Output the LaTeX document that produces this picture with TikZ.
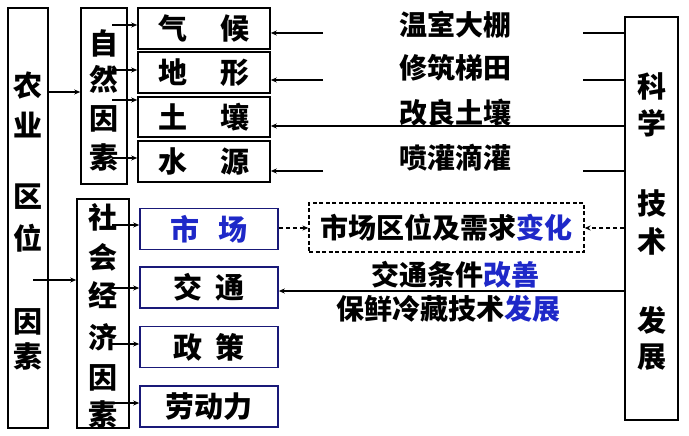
\documentclass[tikz,border=0pt]{standalone}
\usepackage{fontspec}
\newfontfamily\cjk{Noto Sans CJK SC}
\usetikzlibrary{arrows.meta}
\definecolor{tblue}{RGB}{30,40,200}
\definecolor{navy}{RGB}{25,25,120}
\tikzset{
  box/.style={draw=black,line width=1.6pt,inner sep=0pt},
  sbox/.style={draw=navy,line width=1.6pt,inner sep=0pt,minimum width=138pt,minimum height=41pt},
  nbox/.style={draw=black,line width=1.6pt,inner sep=0pt,minimum width=132pt,minimum height=41pt},
  vch/.style={inner sep=0pt,font=\cjk\bfseries\fontsize{29}{29}\selectfont},
  lbl/.style={inner sep=0pt,font=\cjk\bfseries\fontsize{28}{28}\selectfont},
  btxt/.style={font=\cjk\bfseries\fontsize{29}{29}\selectfont},
  dtxt/.style={font=\cjk\bfseries\fontsize{28}{28}\selectfont},
  conn/.style={line width=1.3pt},
  arr/.style={line width=1.3pt,-{Stealth[length=6pt,width=5pt]}},
  darr/.style={line width=1.3pt,dashed,dash pattern=on 4pt off 3pt,-{Stealth[length=6pt,width=5pt]}},
}
\begin{document}
\begin{tikzpicture}[x=1pt,y=-1pt]
\useasboundingbox (0,0) rectangle (689,436);
% left column
\node[box,minimum width=40pt,minimum height=420pt] (agri) at (28,218) {};
\foreach \c/\y [count=\i] in {农/86,业/125,区/197,位/238,因/322,素/356}
  \node[vch] (ag\i) at (28,\y) {\c};
% natural factors
\node[box,minimum width=46pt,minimum height=176pt] (nat) at (104,96) {};
\foreach \c/\y [count=\i] in {自/43,然/79,因/119,素/157}
  \node[vch] (na\i) at (104,\y) {\c};
\node[nbox,btxt] (qh) at (204,28.5) {气\hspace{33pt}候};
\node[nbox,btxt] (dx) at (204,72.5) {地\hspace{33pt}形};
\node[nbox,btxt,minimum height=40pt] (tr) at (204,117) {土\hspace{33pt}壤};
\node[nbox,btxt] (sy) at (204,161.5) {水\hspace{33pt}源};
% social factors
\node[box,minimum width=52pt,minimum height=229pt] (soc) at (103,313.5) {};
\foreach \c/\y [count=\i] in {社/217,会/257,经/295,济/337,因/378,素/414}
  \node[vch] (so\i) at (103,\y) {\c};
\node[sbox,btxt,text=tblue] (sc) at (209,229) {市\hspace{20pt}场};
\node[sbox,btxt] (jt) at (209,287.5) {交\hspace{14pt}通};
\node[sbox,btxt] (zc) at (209,347) {政\hspace{14pt}策};
\node[sbox,btxt] (ldl) at (209,406.5) {劳动力};
% science box
\node[box,minimum width=53pt,minimum height=403pt] (sci) at (651.5,218.5) {};
\foreach \c/\y [count=\i] in {科/86,学/123,技/203,术/242,发/320,展/357}
  \node[vch] (sk\i) at (652,\y) {\c};
% labels
\node[lbl] (l1) at (455,25) {温室大棚};
\node[lbl] (l2) at (455,68) {修筑梯田};
\node[lbl] (l3) at (455,113) {改良土壤};
\node[lbl] (l4) at (455,158) {喷灌滴灌};
\node[draw,dashed,line width=1.3pt,dash pattern=on 4pt off 2.5pt,minimum width=275pt,minimum height=49pt,inner sep=0pt,dtxt] (dz) at (446.5,227.5) {市场区位及需求\textcolor{tblue}{变化}};
\node[lbl] (l5) at (455,275) {交通条件\textcolor{tblue}{改善}};
\node[lbl] (l6) at (448,309) {保鲜冷藏技术\textcolor{tblue}{发展}};
% connectors: agri -> groups
\coordinate (p0) at (40,92);
\draw[arr] (p0 -| agri.east) -- (p0 -| nat.west);
\coordinate (p1) at (33,280);
\draw[arr] (p1) -- (p1 -| soc.west);
% natural arrows
\foreach \y/\t [count=\i] in {25/qh,70/dx,100/tr,158/sy}{
  \coordinate (n\i) at (112,\y);
  \draw[arr] (n\i) -- (n\i -| \t.west);
}
% social arrows
\foreach \y/\t [count=\i] in {225/sc,288/jt,344/zc,403/ldl}{
  \coordinate (s\i) at (112,\y);
  \draw[arr] (s\i) -- (s\i -| \t.west);
}
% science arrows to natural boxes
\foreach \y/\t [count=\i] in {33/qh,80/dx,171/sy}{
  \coordinate (a\i) at (323,\y);
  \coordinate (b\i) at (583,\y);
  \draw[arr] (a\i) -- (a\i -| \t.east);
  \draw[conn] (b\i) -- (b\i -| sci.west);
}
\coordinate (c3) at (583,126);
\draw[arr] (c3 -| sci.west) -- (c3 -| tr.east);
% market dashed
\coordinate (d1) at (300,228);
\draw[darr] (d1 -| sc.east) -- (d1 -| dz.west);
\draw[darr] (d1 -| sci.west) -- (d1 -| dz.east);
% transport
\coordinate (c6) at (600,291);
\draw[arr] (c6 -| sci.west) -- (c6 -| jt.east);
\end{tikzpicture}
\end{document}
